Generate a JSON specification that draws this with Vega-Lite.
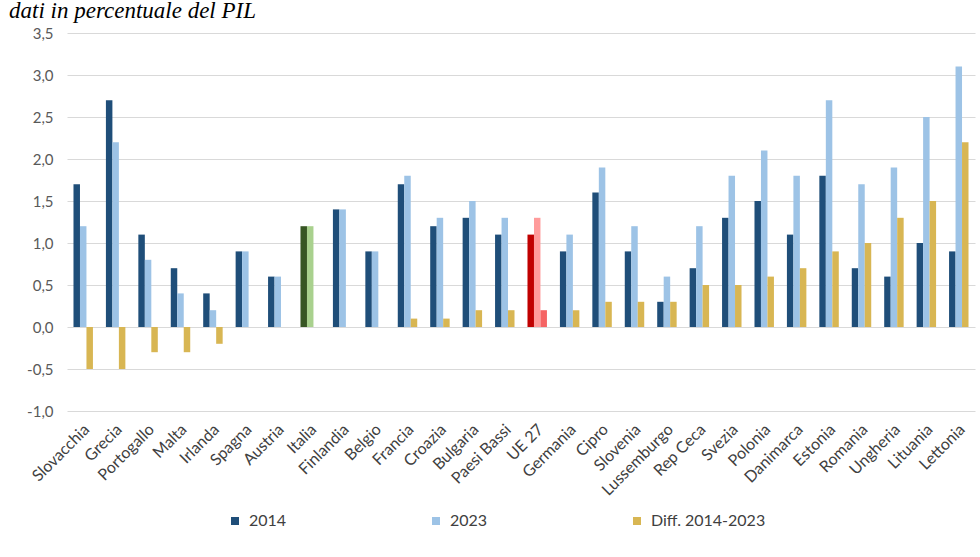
{
  "$schema": "https://vega.github.io/schema/vega-lite/v6.json",
  "width": 908,
  "height": 378,
  "autosize": {"type": "none"},
  "padding": {"left": 67, "top": 33, "right": 5, "bottom": 146},
  "background": "white",
  "title": {
    "text": "dati in percentuale del PIL",
    "font": "Liberation Serif",
    "fontStyle": "italic",
    "fontWeight": "normal",
    "fontSize": 23,
    "color": "#000000",
    "anchor": "start",
    "frame": "group",
    "dx": -58,
    "dy": 1
  },
  "data": {
    "values": [
      {"paese": "Slovacchia", "serie": "2014", "valore": 1.7},
      {"paese": "Slovacchia", "serie": "2023", "valore": 1.2},
      {"paese": "Slovacchia", "serie": "Diff. 2014-2023", "valore": -0.5},
      {"paese": "Grecia", "serie": "2014", "valore": 2.7},
      {"paese": "Grecia", "serie": "2023", "valore": 2.2},
      {"paese": "Grecia", "serie": "Diff. 2014-2023", "valore": -0.5},
      {"paese": "Portogallo", "serie": "2014", "valore": 1.1},
      {"paese": "Portogallo", "serie": "2023", "valore": 0.8},
      {"paese": "Portogallo", "serie": "Diff. 2014-2023", "valore": -0.3},
      {"paese": "Malta", "serie": "2014", "valore": 0.7},
      {"paese": "Malta", "serie": "2023", "valore": 0.4},
      {"paese": "Malta", "serie": "Diff. 2014-2023", "valore": -0.3},
      {"paese": "Irlanda", "serie": "2014", "valore": 0.4},
      {"paese": "Irlanda", "serie": "2023", "valore": 0.2},
      {"paese": "Irlanda", "serie": "Diff. 2014-2023", "valore": -0.2},
      {"paese": "Spagna", "serie": "2014", "valore": 0.9},
      {"paese": "Spagna", "serie": "2023", "valore": 0.9},
      {"paese": "Spagna", "serie": "Diff. 2014-2023", "valore": 0},
      {"paese": "Austria", "serie": "2014", "valore": 0.6},
      {"paese": "Austria", "serie": "2023", "valore": 0.6},
      {"paese": "Austria", "serie": "Diff. 2014-2023", "valore": 0},
      {"paese": "Italia", "serie": "2014", "valore": 1.2},
      {"paese": "Italia", "serie": "2023", "valore": 1.2},
      {"paese": "Italia", "serie": "Diff. 2014-2023", "valore": 0},
      {"paese": "Finlandia", "serie": "2014", "valore": 1.4},
      {"paese": "Finlandia", "serie": "2023", "valore": 1.4},
      {"paese": "Finlandia", "serie": "Diff. 2014-2023", "valore": 0},
      {"paese": "Belgio", "serie": "2014", "valore": 0.9},
      {"paese": "Belgio", "serie": "2023", "valore": 0.9},
      {"paese": "Belgio", "serie": "Diff. 2014-2023", "valore": 0},
      {"paese": "Francia", "serie": "2014", "valore": 1.7},
      {"paese": "Francia", "serie": "2023", "valore": 1.8},
      {"paese": "Francia", "serie": "Diff. 2014-2023", "valore": 0.1},
      {"paese": "Croazia", "serie": "2014", "valore": 1.2},
      {"paese": "Croazia", "serie": "2023", "valore": 1.3},
      {"paese": "Croazia", "serie": "Diff. 2014-2023", "valore": 0.1},
      {"paese": "Bulgaria", "serie": "2014", "valore": 1.3},
      {"paese": "Bulgaria", "serie": "2023", "valore": 1.5},
      {"paese": "Bulgaria", "serie": "Diff. 2014-2023", "valore": 0.2},
      {"paese": "Paesi Bassi", "serie": "2014", "valore": 1.1},
      {"paese": "Paesi Bassi", "serie": "2023", "valore": 1.3},
      {"paese": "Paesi Bassi", "serie": "Diff. 2014-2023", "valore": 0.2},
      {"paese": "UE 27", "serie": "2014", "valore": 1.1},
      {"paese": "UE 27", "serie": "2023", "valore": 1.3},
      {"paese": "UE 27", "serie": "Diff. 2014-2023", "valore": 0.2},
      {"paese": "Germania", "serie": "2014", "valore": 0.9},
      {"paese": "Germania", "serie": "2023", "valore": 1.1},
      {"paese": "Germania", "serie": "Diff. 2014-2023", "valore": 0.2},
      {"paese": "Cipro", "serie": "2014", "valore": 1.6},
      {"paese": "Cipro", "serie": "2023", "valore": 1.9},
      {"paese": "Cipro", "serie": "Diff. 2014-2023", "valore": 0.3},
      {"paese": "Slovenia", "serie": "2014", "valore": 0.9},
      {"paese": "Slovenia", "serie": "2023", "valore": 1.2},
      {"paese": "Slovenia", "serie": "Diff. 2014-2023", "valore": 0.3},
      {"paese": "Lussemburgo", "serie": "2014", "valore": 0.3},
      {"paese": "Lussemburgo", "serie": "2023", "valore": 0.6},
      {"paese": "Lussemburgo", "serie": "Diff. 2014-2023", "valore": 0.3},
      {"paese": "Rep Ceca", "serie": "2014", "valore": 0.7},
      {"paese": "Rep Ceca", "serie": "2023", "valore": 1.2},
      {"paese": "Rep Ceca", "serie": "Diff. 2014-2023", "valore": 0.5},
      {"paese": "Svezia", "serie": "2014", "valore": 1.3},
      {"paese": "Svezia", "serie": "2023", "valore": 1.8},
      {"paese": "Svezia", "serie": "Diff. 2014-2023", "valore": 0.5},
      {"paese": "Polonia", "serie": "2014", "valore": 1.5},
      {"paese": "Polonia", "serie": "2023", "valore": 2.1},
      {"paese": "Polonia", "serie": "Diff. 2014-2023", "valore": 0.6},
      {"paese": "Danimarca", "serie": "2014", "valore": 1.1},
      {"paese": "Danimarca", "serie": "2023", "valore": 1.8},
      {"paese": "Danimarca", "serie": "Diff. 2014-2023", "valore": 0.7},
      {"paese": "Estonia", "serie": "2014", "valore": 1.8},
      {"paese": "Estonia", "serie": "2023", "valore": 2.7},
      {"paese": "Estonia", "serie": "Diff. 2014-2023", "valore": 0.9},
      {"paese": "Romania", "serie": "2014", "valore": 0.7},
      {"paese": "Romania", "serie": "2023", "valore": 1.7},
      {"paese": "Romania", "serie": "Diff. 2014-2023", "valore": 1.0},
      {"paese": "Ungheria", "serie": "2014", "valore": 0.6},
      {"paese": "Ungheria", "serie": "2023", "valore": 1.9},
      {"paese": "Ungheria", "serie": "Diff. 2014-2023", "valore": 1.3},
      {"paese": "Lituania", "serie": "2014", "valore": 1.0},
      {"paese": "Lituania", "serie": "2023", "valore": 2.5},
      {"paese": "Lituania", "serie": "Diff. 2014-2023", "valore": 1.5},
      {"paese": "Lettonia", "serie": "2014", "valore": 0.9},
      {"paese": "Lettonia", "serie": "2023", "valore": 3.1},
      {"paese": "Lettonia", "serie": "Diff. 2014-2023", "valore": 2.2}
    ]
  },
  "mark": {"type": "bar"},
  "encoding": {
    "x": {
      "field": "paese",
      "type": "nominal",
      "sort": null,
      "title": null,
      "scale": {"paddingInner": 0.4, "paddingOuter": 0.2},
      "axis": {
        "labelAngle": -45,
        "labelFontSize": 16,
        "labelColor": "#404040",
        "labelPadding": 10,
        "labelOffset": -2,
        "domain": false,
        "ticks": false,
        "grid": false
      }
    },
    "xOffset": {
      "field": "serie",
      "sort": ["2014", "2023", "Diff. 2014-2023"],
      "scale": {"paddingInner": 0, "paddingOuter": 0}
    },
    "y": {
      "field": "valore",
      "type": "quantitative",
      "title": null,
      "scale": {"domain": [-1, 3.5], "nice": false, "zero": false},
      "axis": {
        "values": [-1, -0.5, 0, 0.5, 1, 1.5, 2, 2.5, 3, 3.5],
        "format": ".1f",
        "labelFontSize": 15,
        "labelColor": "#595959",
        "labelPadding": 14,
        "domain": false,
        "ticks": false,
        "grid": true,
        "gridColor": "#d9d9d9"
      }
    },
    "color": {
      "field": "serie",
      "type": "nominal",
      "condition": [
        {"test": "datum.paese == 'Italia' && datum.serie == '2014'", "value": "#375623"},
        {"test": "datum.paese == 'Italia' && datum.serie == '2023'", "value": "#a9d18e"},
        {"test": "datum.paese == 'UE 27' && datum.serie == '2014'", "value": "#c00000"},
        {"test": "datum.paese == 'UE 27' && datum.serie == '2023'", "value": "#ff9b9b"},
        {"test": "datum.paese == 'UE 27' && datum.serie == 'Diff. 2014-2023'", "value": "#f56464"}
      ],
      "scale": {
        "domain": ["2014", "2023", "Diff. 2014-2023"],
        "range": ["#1f4e79", "#9dc3e6", "#d8b653"]
      },
      "legend": {
        "title": null,
        "orient": "none",
        "legendX": 160,
        "legendY": 480,
        "direction": "horizontal",
        "columns": 3,
        "gridAlign": "all",
        "columnPadding": 64,
        "symbolType": "square",
        "symbolSize": 64,
        "symbolStrokeWidth": 0,
        "labelFontSize": 16,
        "labelColor": "#404040",
        "labelOffset": 6
      }
    }
  },
  "config": {
    "font": "Lato",
    "view": {"stroke": null},
    "locale": {
      "number": {
        "decimal": ",",
        "thousands": ".",
        "grouping": [3],
        "currency": ["", " €"],
        "minus": "-"
      }
    }
  }
}
